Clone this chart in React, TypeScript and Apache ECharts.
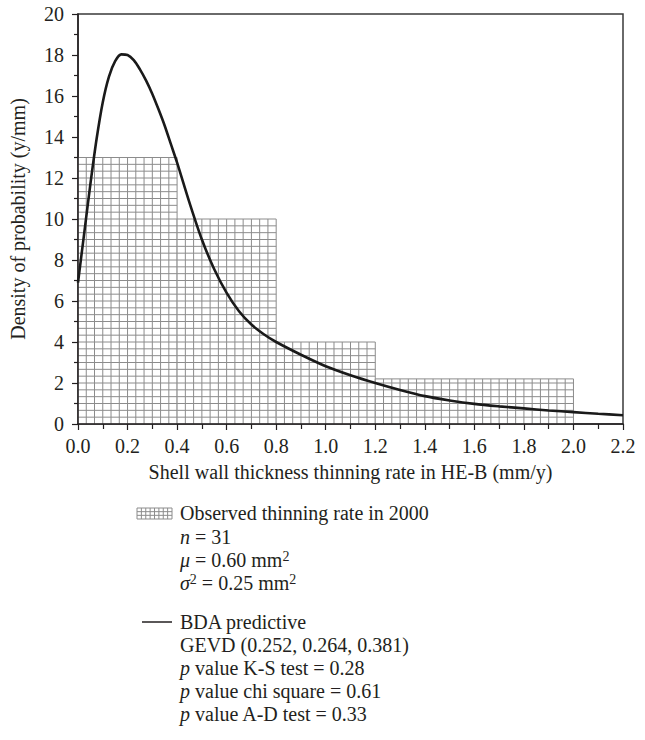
import React, { useEffect, useRef } from "react";
import * as echarts from "echarts";

// Histogram bins (observed thinning rate)
const binStart = [0, 0.4, 0.8, 1.2];
const binEnd = [0.4, 0.8, 1.2, 2.0];
const binHeight = [13, 10, 4, 2.2];

// BDA predictive density curve
const curveX = [0, 0.025, 0.05, 0.075, 0.1, 0.125, 0.15, 0.175, 0.2, 0.225, 0.25, 0.275, 0.3, 0.325, 0.35, 0.375, 0.4, 0.45, 0.5, 0.55, 0.6, 0.65, 0.7, 0.75, 0.8, 0.9, 1.0, 1.1, 1.2, 1.3, 1.4, 1.5, 1.6, 1.7, 1.8, 1.9, 2.0, 2.1, 2.2];
const curveY = [6.9, 9.3, 11.7, 13.9, 15.7, 16.95, 17.7, 18.03, 18.0, 17.75, 17.3, 16.75, 16.1, 15.35, 14.55, 13.65, 12.75, 10.8, 9.0, 7.55, 6.4, 5.5, 4.85, 4.38, 4.0, 3.38, 2.82, 2.38, 2.0, 1.66, 1.36, 1.15, 0.98, 0.86, 0.76, 0.66, 0.58, 0.5, 0.43];

const xAxisName = "Shell wall thickness thinning rate in HE-B (mm/y)";
const yAxisName = "Density of probability (y/mm)";

const legendObserved = [
  "Observed thinning rate in 2000",
  "{i|n} = 31",
  "{i|μ} = 0.60 mm{s|2}",
  "{i|σ}{s|2} = 0.25 mm{s|2}",
];
const legendPredictive = [
  "BDA predictive",
  "GEVD (0.252, 0.264, 0.381)",
  "{i|p} value K-S test = 0.28",
  "{i|p} value chi square = 0.61",
  "{i|p} value A-D test = 0.33",
];

const FONT = "Liberation Serif";
const TXT = "#231f20";
const FS = 20;

export default function App() {
  const ref = useRef<HTMLDivElement>(null);
  useEffect(() => {
    if (!ref.current) return;
    const chart = echarts.init(ref.current, null, { renderer: "svg" });

    const histData = binStart.map((s, i) => [s, binEnd[i], binHeight[i]]);
    const curveData = curveX.map((x, i) => [x, curveY[i]]);

    const rich = {
      i: { fontFamily: FONT, fontSize: FS, fontStyle: "italic", fill: TXT, lineHeight: 22 },
      s: { fontFamily: FONT, fontSize: 14, fill: TXT, verticalAlign: "top", lineHeight: 12 },
    };

    const graphics: any[] = [];
    const textX = 180;
    const obsCenter = [513, 536.5, 560, 583];
    const predCenter = [622, 645, 668, 691, 714];
    const addText = (t: string, y: number) =>
      graphics.push({
        type: "text",
        x: textX,
        y,
        style: { text: t, rich, fontFamily: FONT, fontSize: FS, fill: TXT, verticalAlign: "middle", lineHeight: 22 },
      });
    legendObserved.forEach((t, i) => addText(t, obsCenter[i]));
    legendPredictive.forEach((t, i) => addText(t, predCenter[i]));

    // legend icon: grid pattern
    const ix = 137, iy = 508, iw = 35, ih = 11;
    const iconChildren: any[] = [
      { type: "rect", shape: { x: ix, y: iy, width: iw, height: ih }, style: { fill: "#fff", stroke: "#8c8c8c", lineWidth: 1 } },
    ];
    for (let k = 1; k < 8; k++) {
      const px = ix + (iw * k) / 8;
      iconChildren.push({ type: "line", shape: { x1: px, y1: iy, x2: px, y2: iy + ih }, style: { stroke: "#8c8c8c", lineWidth: 1 } });
    }
    for (let j = 1; j < 3; j++) {
      const py = iy + (ih * j) / 3;
      iconChildren.push({ type: "line", shape: { x1: ix, y1: py, x2: ix + iw, y2: py }, style: { stroke: "#8c8c8c", lineWidth: 1 } });
    }
    graphics.push({ type: "group", children: iconChildren });
    graphics.push({ type: "line", shape: { x1: 142, y1: 622, x2: 172, y2: 622 }, style: { stroke: "#231f20", lineWidth: 1.5 } });

    chart.setOption({
      animation: false,
      backgroundColor: "#fff",
      textStyle: { fontFamily: FONT },
      grid: { left: 78, right: 22, top: 14, bottom: 316, show: true, borderColor: "#3a3a3a", borderWidth: 1.5, backgroundColor: "transparent" },
      xAxis: {
        type: "value",
        min: 0,
        max: 2.2,
        interval: 0.2,
        z: 5,
        name: xAxisName,
        nameLocation: "middle",
        nameGap: 38,
        nameTextStyle: { fontFamily: FONT, fontSize: FS, color: TXT },
        axisLine: { show: true, lineStyle: { color: "#231f20", width: 1.5 } },
        axisTick: { show: true, inside: false, length: 6, lineStyle: { color: "#231f20", width: 1.2 } },
        minorTick: { show: true, splitNumber: 2, length: 5, lineStyle: { color: "#231f20", width: 1.2 } },
        splitLine: { show: false },
        axisLabel: { fontFamily: FONT, fontSize: FS, color: TXT, margin: 12, formatter: (v: number) => v.toFixed(1) },
      },
      yAxis: {
        type: "value",
        min: 0,
        max: 20,
        interval: 2,
        z: 5,
        name: yAxisName,
        nameLocation: "middle",
        nameGap: 50,
        nameRotate: 90,
        nameTextStyle: { fontFamily: FONT, fontSize: FS, color: TXT },
        axisLine: { show: true, lineStyle: { color: "#231f20", width: 1.5 } },
        axisTick: { show: true, inside: false, length: 6, lineStyle: { color: "#231f20", width: 1.2 } },
        minorTick: { show: true, splitNumber: 2, length: 4, lineStyle: { color: "#231f20", width: 1.2 } },
        splitLine: { show: false },
        axisLabel: { fontFamily: FONT, fontSize: FS, color: TXT, margin: 14 },
      },
      graphic: graphics,
      series: [
        {
          type: "custom",
          z: 1,
          data: histData,
          encode: { x: [0, 1], y: 2 },
          renderItem: (params: any, api: any) => {
            const x0 = api.value(0);
            const x1 = api.value(1);
            const h = api.value(2);
            const tl = api.coord([x0, h]);
            const br = api.coord([x1, 0]);
            const stroke = "#8c8c8c";
            const children: any[] = [
              { type: "rect", shape: { x: tl[0], y: tl[1], width: br[0] - tl[0], height: br[1] - tl[1] }, style: { fill: "#fff", stroke, lineWidth: 1 } },
            ];
            const k0 = Math.round(x0 * 30);
            const k1 = Math.round(x1 * 30);
            for (let k = k0 + 1; k < k1; k++) {
              const px = api.coord([k / 30, 0])[0];
              children.push({ type: "line", shape: { x1: px, y1: tl[1], x2: px, y2: br[1] }, style: { stroke, lineWidth: 1 } });
            }
            for (let j = 1; j / 3 < h - 1e-6; j++) {
              const py = api.coord([0, j / 3])[1];
              children.push({ type: "line", shape: { x1: tl[0], y1: py, x2: br[0], y2: py }, style: { stroke, lineWidth: 1 } });
            }
            return { type: "group", children };
          },
        },
        {
          type: "line",
          z: 10,
          data: curveData,
          smooth: 0.3,
          showSymbol: false,
          symbol: "none",
          lineStyle: { color: "#1a1a1a", width: 2.6 },
        },
      ],
    });
    return () => chart.dispose();
  }, []);
  return <div ref={ref} style={{ position: "fixed", left: 0, top: 0, width: 645, height: 740 }} />;
}
